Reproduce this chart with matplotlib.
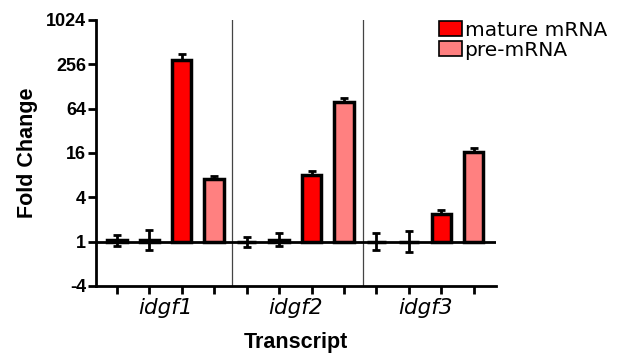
import numpy as np
import matplotlib
matplotlib.use("Agg")
import matplotlib.pyplot as plt
from matplotlib.patches import Patch

# --- DATA (log2 fold change) ---
genes = ["idgf1", "idgf2", "idgf3"]
ctrl_a = [0.05, -0.03, 0.0]
ctrl_a_err = [0.25, 0.22, 0.40]
ctrl_b = [0.05, 0.08, 0.0]
ctrl_b_err = [0.45, 0.30, 0.47]
mature = [8.2, 3.0, 1.26]
mature_err = [0.27, 0.2, 0.18]
pre = [2.8, 6.3, 4.06]
pre_err = [0.14, 0.18, 0.18]
ytick_vals = [-2, 0, 2, 4, 6, 8, 10]
ytick_labels = ["-4", "1", "4", "16", "64", "256", "1024"]

RED = "#ff0000"
PINK = "#ff8080"

fig = plt.figure(figsize=(6.26, 3.56), dpi=100)
ax = fig.add_axes([0.153, 0.197, 0.639, 0.747])

width = 0.6
for g in range(3):
    base = g * 4
    vals = [ctrl_a[g], ctrl_b[g], mature[g], pre[g]]
    errs = [ctrl_a_err[g], ctrl_b_err[g], mature_err[g], pre_err[g]]
    cols = ["white", "white", RED, PINK]
    for k in range(4):
        x = base + k
        ax.bar(x, vals[k], width=width, color=cols[k], edgecolor="black",
               linewidth=2.5, zorder=3)
        if k < 2:
            ax.errorbar(x, vals[k], yerr=errs[k], fmt="none", ecolor="black",
                        elinewidth=2, capsize=3, capthick=2, zorder=4)
        else:
            lo = 0 if vals[k] > 0 else errs[k]
            hi = errs[k] if vals[k] > 0 else 0
            ax.errorbar(x, vals[k], yerr=[[lo], [hi]], fmt="none", ecolor="black",
                        elinewidth=2, capsize=3, capthick=2, zorder=4)

ax.axhline(0, color="black", linewidth=2, zorder=5)
for xs in [3.55, 7.6]:
    ax.axvline(xs, ymin=0, ymax=1.005, color="#444444", linewidth=0.9, zorder=1)

ax.set_xlim(-0.65, 11.68)
ax.set_ylim(-2, 10)
ax.set_yticks(ytick_vals)
ax.set_yticklabels(ytick_labels, fontfamily="Liberation Sans", fontweight="bold", fontsize=13)
ax.set_xticks(np.arange(12))
ax.set_xticklabels([])
ax.tick_params(axis="both", direction="out", width=2, length=6)
ax.tick_params(axis="y", pad=1)

for s in ["top", "right"]:
    ax.spines[s].set_visible(False)
for s in ["left", "bottom"]:
    ax.spines[s].set_linewidth(2)

for g, name in enumerate(genes):
    ax.text(g * 4 + 1.5, -3.0, name, ha="center", va="center", fontsize=15.5,
            style="italic", fontfamily="DejaVu Sans", transform=ax.transData)

ax.set_xlabel("Transcript", fontfamily="Liberation Sans", fontweight="bold",
              fontsize=15.5, labelpad=24)
ax.set_ylabel("Fold Change", fontfamily="Liberation Sans", fontweight="bold",
              fontsize=15.5, labelpad=6)

handles = [Patch(facecolor=RED, edgecolor="black", linewidth=1.2, label="mature mRNA"),
           Patch(facecolor=PINK, edgecolor="black", linewidth=1.2, label="pre-mRNA")]
fig.legend(handles=handles, loc="upper left", bbox_to_anchor=(0.689, 0.965),
           frameon=False, fontsize=14.5, handlelength=1.1, handleheight=0.7,
           handletextpad=0.15, labelspacing=0.05, borderaxespad=0)

fig.savefig("out.png", dpi=100)
